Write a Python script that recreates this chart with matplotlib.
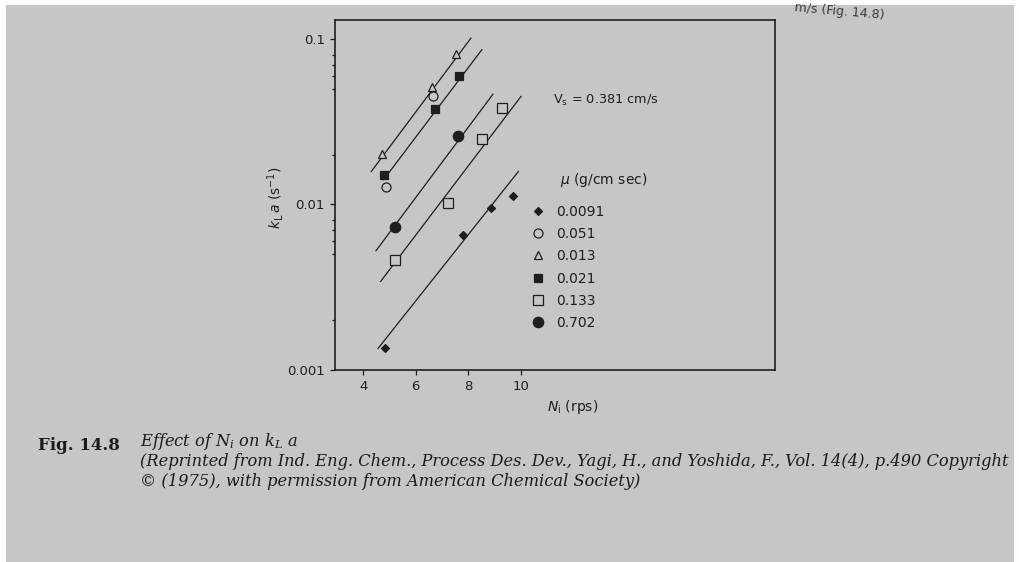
import matplotlib.pyplot as plt
from matplotlib.patches import Rectangle
from matplotlib.ticker import FixedLocator, LogLocator, NullFormatter

plt.rcParams['font.family'] = ['DejaVu Sans']

# measured points: impeller speed N_i (rps) vs k_L a (1/s), one pair per viscosity
n_0091 = [4.84, 7.79, 8.86, 9.72]
kla_0091 = [0.00135, 0.00653, 0.00949, 0.0112]
n_051 = [4.86, 6.64]
kla_051 = [0.0128, 0.0449]
n_013 = [4.70, 6.60, 7.55]
kla_013 = [0.0203, 0.0512, 0.0812]
n_021 = [4.79, 6.75, 7.66]
kla_021 = [0.0150, 0.0377, 0.0598]
n_133 = [5.19, 7.23, 8.54, 9.28]
kla_133 = [0.00460, 0.0102, 0.0247, 0.0384]
n_702 = [5.21, 7.59]
kla_702 = [0.00726, 0.0258]

viscosities = ['0.0091', '0.051', '0.013', '0.021', '0.133', '0.702']

# straight fit lines drawn through the groups (end points)
line_n = [[4.30, 8.10], [4.77, 8.52], [4.48, 8.94], [4.66, 10.01], [4.56, 9.91]]
line_kla = [[0.0158, 0.101], [0.0141, 0.0861], [0.00525, 0.0463],
            [0.00343, 0.0449], [0.00135, 0.0158]]

x_ticks = [4, 6, 8, 10]
y_ticks = [0.001, 0.01, 0.1]
y_tick_labels = ['0.001', '0.01', '0.1']

page = '#c5c7c4'
ink = '#1e1e1e'

fig = plt.figure(figsize=(10.19, 5.62), dpi=100)
fig.patch.set_facecolor('white')
fig.patches.append(Rectangle((6 / 1019, 0), 1008 / 1019, 557 / 562,
                             transform=fig.transFigure, facecolor=page,
                             edgecolor='none', zorder=-10))

ax = fig.add_axes([0.3288, 0.3416, 0.4318, 0.6228])
ax.set_facecolor('none')
ax.set_yscale('log')
ax.set_xlim(2.92, 19.7)
ax.set_ylim(0.001, 0.13)

for xs, ys in zip(line_n, line_kla):
    ax.plot(xs, ys, color=ink, lw=0.9)

series = [
    (n_0091, kla_0091, dict(marker='D', ms=4.2, mfc=ink)),
    (n_051, kla_051, dict(marker='o', ms=6.5, mfc=page)),
    (n_013, kla_013, dict(marker='^', ms=6.0, mfc=page)),
    (n_021, kla_021, dict(marker='s', ms=5.8, mfc=ink)),
    (n_133, kla_133, dict(marker='s', ms=7.0, mfc=page)),
    (n_702, kla_702, dict(marker='o', ms=7.5, mfc=ink)),
]
for (xs, ys, style), label in zip(series, viscosities):
    ax.plot(xs, ys, ls='none', mec=ink, mew=0.9, label=label, **style)

for side in ['left', 'bottom', 'right', 'top']:
    ax.spines[side].set_color(ink)
    ax.spines[side].set_linewidth(1.2)

ax.xaxis.set_major_locator(FixedLocator(x_ticks))
ax.set_xticklabels([str(t) for t in x_ticks])
ax.yaxis.set_major_locator(FixedLocator(y_ticks))
ax.set_yticklabels(y_tick_labels)
ax.yaxis.set_minor_locator(LogLocator(base=10, subs=[2, 5, 6, 7, 8]))
ax.yaxis.set_minor_formatter(NullFormatter())
ax.tick_params(which='both', direction='out', colors=ink, labelsize=9.5,
               width=0.9, pad=4)
ax.tick_params(which='major', length=3.5)
ax.tick_params(which='minor', length=2.5)

ax.text(0.4955, 0.771, 'V$_\\mathregular{s}$ = 0.381 cm/s', transform=ax.transAxes,
        fontsize=9.3, color=ink, va='center', ha='left')
ax.text(0.511, 0.543, '$\\mu$ (g/cm sec)', transform=ax.transAxes,
        fontsize=10, color=ink, va='center', ha='left')

leg = ax.legend(loc='upper left', bbox_to_anchor=(0.4448, 0.4726), frameon=False,
                fontsize=10, handlelength=1.0, handletextpad=0.8,
                labelspacing=0.6, borderpad=0, borderaxespad=0, numpoints=1)
for t in leg.get_texts():
    t.set_color(ink)

fig.text(275 / 1019, 1 - 198 / 562, '$k_\\mathregular{L}\\,a$ (s$^{-1}$)',
         rotation=90, ha='center', va='center', fontsize=10, color=ink)
fig.text(573 / 1019, 1 - 407 / 562, '$N_\\mathregular{i}$ (rps)',
         ha='center', va='center', fontsize=10, color=ink)

# caption printed under the figure
cap = dict(family='DejaVu Serif', color='#1a1a1a', ha='left', va='center')
fig.text(38 / 1019, 1 - 446 / 562, 'Fig. 14.8', fontsize=12,
         fontweight='bold', **cap)
fig.text(140 / 1019, 1 - 442 / 562, 'Effect of $N_i$ on $k_L$ $a$', fontsize=11.7,
         style='italic', math_fontfamily='dejavuserif', **cap)
fig.text(140 / 1019, 1 - 461 / 562,
         '(Reprinted from Ind. Eng. Chem., Process Des. Dev., Yagi, H., and Yoshida, F., '
         'Vol. 14(4), p.490 Copyright', fontsize=11.7, style='italic', **cap)
fig.text(140 / 1019, 1 - 481 / 562,
         '\u00a9 (1975), with permission from American Chemical Society)',
         fontsize=11.7, style='italic', **cap)

# cut-off line from the previous text on the page
fig.text(795 / 1019, 1 - 8 / 562, 'm/s (Fig. 14.8)', fontsize=9,
         color='#3a3a40', rotation=-5, rotation_mode='anchor',
         ha='left', va='center')

fig.savefig('out.png', dpi=100, facecolor=fig.get_facecolor())
